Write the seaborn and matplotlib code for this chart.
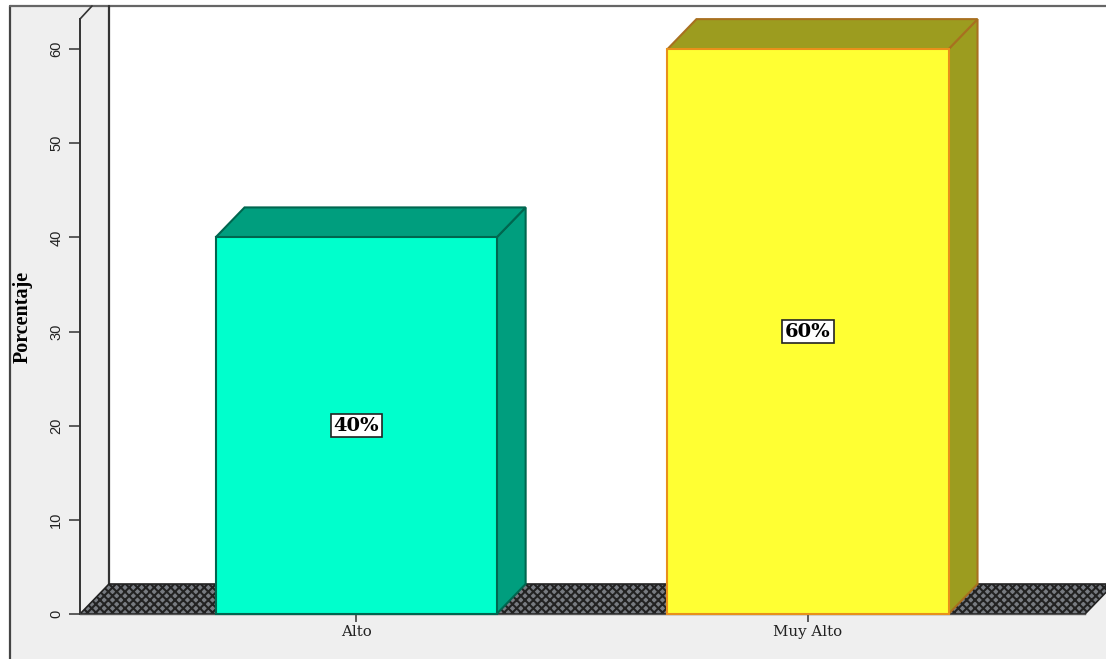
import matplotlib
matplotlib.use('Agg')
import matplotlib.pyplot as plt
import pandas as pd
import seaborn as sns
from matplotlib.patches import Polygon, Rectangle
from matplotlib.lines import Line2D

categories = ['Alto', 'Muy Alto']
values = [40, 60]
value_labels = ['40%', '60%']
front_colors = ['#00ffcc', '#ffff33']
side_colors = ['#009e7e', '#9c9c1f']
edge_colors = ['#00664f', '#e8901a']
side_edges = ['#00664f', '#a8701f']
y_ticks = [0, 10, 20, 30, 40, 50, 60]

W, H = 1106, 659
panel_gray = '#efefef'
line_dark = '#333333'

sns.set_style('white')
plt.rcParams['hatch.linewidth'] = 1.5
plt.rcParams['hatch.color'] = '#0a0a0a'

fig = plt.figure(figsize=(W / 100, H / 100), dpi=100, facecolor='white')


def px(x, y):
    # picture pixels to figure fraction
    return x / W, 1 - y / H


# outer gray panel and white back wall
fig.add_artist(Rectangle(px(10, 659), 1096 / W, 653 / H, transform=fig.transFigure,
                         facecolor=panel_gray, edgecolor='none', zorder=0))
fig.add_artist(Rectangle(px(109, 585), 997 / W, 579 / H, transform=fig.transFigure,
                         facecolor='white', edgecolor='none', zorder=0))
for (x0, y0), (x1, y1), col, lw in [
    ((10, 6), (10, 659), '#444444', 1.6),
    ((10, 6), (1106, 6), '#666666', 1.6),
    ((109, 6), (109, 585), line_dark, 1.6),
    ((80, 19), (92, 6), line_dark, 1.2),
]:
    a, b = px(x0, y0), px(x1, y1)
    fig.add_artist(Line2D([a[0], b[0]], [a[1], b[1]], transform=fig.transFigure,
                          color=col, lw=lw, zorder=1))

# front plane of the chart, 0 at y=614 and 60 at y=49
left, bottom = px(80, 614)
right, top = px(1085, 19)
ax = fig.add_axes([left, bottom, right - left, top - bottom], zorder=2)
ax.patch.set_alpha(0)

df = pd.DataFrame({'categoria': categories, 'porcentaje': values})
sns.barplot(data=df, x='categoria', y='porcentaje', hue='categoria', saturation=1,
            palette=front_colors, width=0.622, legend=False, ax=ax, zorder=4)

ax.set_xlim(-0.611, 1.613)
ax.set_ylim(0, 63.2)
ax.set_yticks(y_ticks)

# depth of the 3D effect in data units
dx = 29 / 452
dy = 30 / (565 / 60)
xl, xr = ax.get_xlim()

ax.add_patch(Polygon([(xl, 0), (xl + dx, dy), (xr + dx, dy), (xr, 0)], closed=True,
                     facecolor='#777b81', edgecolor='#222222', hatch='xxxx',
                     lw=1.2, zorder=2, clip_on=False))

for i, bar in enumerate(ax.patches[:len(values)]):
    x0, w, h = bar.get_x(), bar.get_width(), bar.get_height()
    bar.set_edgecolor(edge_colors[i])
    bar.set_linewidth(1.5)
    bar.set_clip_on(False)
    ax.add_patch(Polygon([(x0 + w, 0), (x0 + w + dx, dy), (x0 + w + dx, h + dy), (x0 + w, h)],
                         closed=True, facecolor=side_colors[i], edgecolor=side_edges[i],
                         lw=1.5, zorder=3, clip_on=False))
    ax.add_patch(Polygon([(x0, h), (x0 + dx, h + dy), (x0 + w + dx, h + dy), (x0 + w, h)],
                         closed=True, facecolor=side_colors[i], edgecolor=side_edges[i],
                         lw=1.5, zorder=3, clip_on=False))
    ax.text(x0 + w / 2, h / 2, value_labels[i], ha='center', va='center', zorder=6,
            family='DejaVu Serif', fontweight='bold', fontsize=14, color='black',
            bbox=dict(boxstyle='square,pad=0.14', facecolor='white',
                      edgecolor='#222222', linewidth=1.2))

for side in ['top', 'right']:
    ax.spines[side].set_visible(False)
ax.spines['left'].set_color(line_dark)
ax.spines['left'].set_linewidth(1.4)
ax.spines['bottom'].set_color('#555555')
ax.spines['bottom'].set_linewidth(1.0)

ax.tick_params(axis='y', left=True, length=8, width=1.1, color=line_dark, pad=4)
ax.tick_params(axis='x', bottom=True, length=6, width=1.1, color=line_dark, pad=2)
for t in ax.get_yticklabels():
    t.set_rotation(90)
    t.set_va('center')
    t.set_family('Liberation Sans')
    t.set_fontsize(10.5)
    t.set_color('#222222')
for t in ax.get_xticklabels():
    t.set_family('DejaVu Serif')
    t.set_fontsize(10.8)
    t.set_color('#222222')

ax.set_xlabel('')
ax.set_ylabel('')
lx, ly = px(23, 317)
fig.text(lx, ly, 'Porcentaje', rotation=90, ha='center', va='center',
         family='Liberation Serif', fontweight='bold', fontsize=14.5, color='black', zorder=3)

fig.savefig('out.png', dpi=100, facecolor='white')
